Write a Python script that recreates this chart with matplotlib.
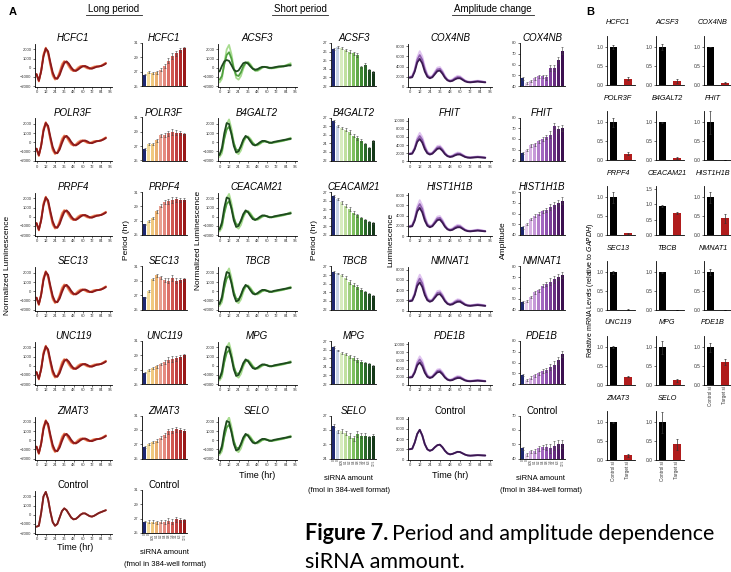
import numpy as np
import matplotlib
matplotlib.use("Agg")
import matplotlib.pyplot as plt
from matplotlib.lines import Line2D

plt.rcParams['font.family'] = ['Liberation Sans', 'DejaVu Sans']

W, H = 731, 572

# ---------------- data ----------------
hours = list(range(0, 91, 3))

# panel A, long period column (normalized luminescence)
long_light = [-700, -1500, -300, 1500, 2200, 1500, 200, -900, -1300, -1100, -400, 400, 750, 550, 100, -250,
              -350, -200, 50, 200, 200, 50, -80, -80, 50, 150, 150, 150, 250, 400, 550]
long_mid = [-700, -1450, -350, 1350, 2150, 1650, 400, -700, -1200, -1150, -600, 150, 650, 650, 300, -100,
            -350, -300, -100, 100, 200, 150, 0, -100, -50, 50, 150, 150, 200, 350, 500]
long_dark = [-700, -1400, -400, 1200, 2100, 1800, 600, -500, -1100, -1200, -800, -100, 500, 700, 450, 50,
             -250, -350, -200, 0, 150, 200, 100, -50, -100, 0, 100, 150, 200, 300, 450]
long_ctrl = [-1300, -1200, 200, 2000, 2500, 1700, 300, -800, -1200, -1000, -300, 400, 700, 500, 100, -300,
             -500, -450, -250, 0, 150, 150, 0, -150, -200, -100, 50, 200, 300, 400, 500]

# short period column
short_light = [-1600, -1200, 500, 2000, 2500, 1500, 0, -1100, -1300, -900, -100, 500, 650, 400, 0, -300,
               -350, -200, 0, 100, 100, 0, -50, -50, 0, 50, 100, 150, 250, 400, 500]
short_mid = [-1300, -900, 400, 1400, 1700, 1000, -100, -800, -900, -500, 150, 550, 550, 250, -100, -300,
             -250, -100, 50, 100, 50, -50, -50, 0, 50, 100, 150, 200, 250, 300, 350]
short_flat = [-400, 200, 700, 850, 750, 300, -200, -400, -300, 100, 500, 600, 450, 150, -100, -200,
              -150, 0, 100, 100, 50, 0, 0, 50, 100, 150, 150, 150, 200, 250, 250]
short_dark = [-1400, -600, 1000, 2100, 2000, 900, -400, -1100, -1000, -400, 300, 700, 500, 100, -250, -350,
              -200, 0, 150, 150, 50, -50, -50, 50, 100, 150, 200, 250, 300, 350, 400]

# amplitude column (raw luminescence)
amp_light = [2000, 2200, 3500, 5800, 7000, 6000, 4000, 2500, 2000, 2200, 3000, 3800, 3900, 3200, 2200, 1500,
             1300, 1500, 1900, 2200, 2100, 1700, 1300, 1100, 1050, 1100, 1200, 1250, 1200, 1100, 1000]
amp_mid = [1900, 2050, 3250, 5300, 6250, 5300, 3500, 2250, 1850, 2050, 2750, 3450, 3550, 2900, 2000, 1400,
           1200, 1350, 1700, 1950, 1900, 1550, 1200, 1020, 970, 1020, 1100, 1150, 1100, 1020, 950]
amp_dark = [1800, 1900, 3000, 4800, 5500, 4600, 3000, 2000, 1700, 1900, 2500, 3100, 3200, 2600, 1800, 1300,
            1100, 1200, 1500, 1700, 1700, 1400, 1100, 950, 900, 950, 1000, 1050, 1000, 950, 900]
amp_ctrl = [2000, 2100, 3300, 5000, 5800, 4700, 3000, 2000, 1700, 1900, 2400, 2800, 2900, 2400, 1700, 1200,
            1000, 1100, 1300, 1500, 1450, 1200, 950, 800, 750, 780, 820, 850, 830, 800, 780]

long_genes = ['HCFC1', 'POLR3F', 'PRPF4', 'SEC13', 'UNC119', 'ZMAT3', 'Control']
long_period = [
    [26.6, 26.9, 26.8, 26.9, 27.3, 27.8, 28.5, 29.2, 29.6, 30.0, 30.3],
    [26.6, 27.3, 27.3, 27.8, 28.5, 28.6, 28.8, 29.0, 28.9, 28.8, 28.7],
    [26.5, 26.9, 27.4, 28.3, 29.1, 29.6, 29.7, 29.9, 30.0, 29.9, 29.9],
    [26.7, 27.6, 29.3, 29.8, 29.5, 29.1, 29.0, 29.4, 29.0, 29.1, 29.2],
    [26.6, 27.0, 27.2, 27.5, 27.8, 28.1, 28.4, 28.5, 28.6, 28.8, 29.0],
    [26.6, 27.0, 27.3, 27.5, 27.9, 28.3, 28.8, 28.9, 29.1, 29.0, 28.9],
    [26.6, 26.6, 26.6, 26.5, 26.6, 26.5, 26.7, 26.6, 26.9, 26.8, 26.8],
]
long_err = [0.1, 0.15, 0.15, 0.2, 0.2, 0.3, 0.35, 0.4, 0.35, 0.3, 0.2]

short_genes = ['ACSF3', 'B4GALT2', 'CEACAM21', 'TBCB', 'MPG', 'SELO']
short_period = [
    [26.3, 26.5, 26.4, 26.2, 26.0, 25.8, 25.6, 24.2, 24.5, 23.9, 23.6],
    [26.6, 26.0, 25.8, 25.6, 25.3, 24.9, 24.6, 24.3, 23.9, 23.5, 24.3],
    [26.5, 26.2, 25.8, 25.4, 25.0, 24.6, 24.3, 24.0, 23.7, 23.5, 23.4],
    [26.4, 26.2, 26.0, 25.7, 25.2, 24.9, 24.6, 24.3, 24.0, 23.8, 23.6],
    [26.3, 25.9, 25.6, 25.5, 25.2, 25.0, 24.8, 24.6, 24.4, 24.3, 24.1],
    [26.3, 25.9, 25.9, 25.8, 25.6, 25.4, 25.7, 25.6, 25.6, 25.5, 25.6],
]
short_err = [0.1, 0.1, 0.15, 0.15, 0.2, 0.2, 0.2, 0.15, 0.15, 0.1, 0.1]

amp_genes = ['COX4NB', 'FHIT', 'HIST1H1B', 'NMNAT1', 'PDE1B', 'Control']
amplitude = [
    [47, 43, 45, 47, 49, 49, 48, 57, 57, 64, 73],
    [47, 50, 54, 55, 58, 60, 62, 64, 72, 69, 70],
    [47, 50, 55, 58, 60, 62, 63, 66, 68, 70, 72],
    [47, 48, 52, 56, 58, 62, 64, 66, 68, 70, 72],
    [48, 44, 46, 48, 50, 52, 53, 56, 58, 62, 68],
    [47, 43, 45, 45, 47, 48, 48, 47, 49, 50, 50],
]
amp_err = [1, 1, 1, 1.5, 1.5, 1.5, 2, 3, 3, 3, 3]
amp_lum_top = [8000, 10000, 8000, 8000, 10000, 8000]

sirna_labels = ['0', '0', '0.05', '0.1', '0.2', '0.4', '0.8', '1.6', '3.1', '6.3', '12.5']

# panel B: knockdown efficiency
b_genes = ['HCFC1', 'ACSF3', 'COX4NB', 'POLR3F', 'B4GALT2', 'FHIT', 'PRPF4', 'CEACAM21', 'HIST1H1B',
           'SEC13', 'TBCB', 'NMNAT1', 'UNC119', 'MPG', 'PDE1B', 'ZMAT3', 'SELO']
b_control = [1.0, 1.0, 1.0, 1.0, 1.0, 1.0, 1.0, 0.95, 1.0, 1.0, 1.0, 1.0, 1.0, 1.0, 1.0, 1.0, 1.0]
b_control_err = [0.05, 0.08, 0.0, 0.12, 0.02, 0.3, 0.15, 0.03, 0.15, 0.04, 0.02, 0.08, 0.03, 0.18, 0.12, 0.02, 0.28]
b_target = [0.17, 0.10, 0.06, 0.17, 0.05, 0.01, 0.04, 0.72, 0.45, 0.01, 0.0, 0.0, 0.22, 0.12, 0.60, 0.12, 0.42]
b_target_err = [0.03, 0.05, 0.02, 0.05, 0.02, 0.0, 0.02, 0.02, 0.12, 0.01, 0.0, 0.0, 0.02, 0.05, 0.08, 0.04, 0.15]

# ---------------- styles ----------------
navy = '#1e2770'
long_cols = ['#f5dc9a', '#f0c980', '#eab070', '#e8a090', '#e48a80', '#dc7068', '#d05850', '#c04040', '#b02828', '#981818']
short_cols = ['#c8d4e6', '#d8ecc0', '#c0e0a0', '#a0d080', '#80c060', '#60a848', '#3c8a30', '#2a6a28', '#1e5020', '#143818']
amp_cols = ['#e6cdec', '#d6b0e2', '#c698d8', '#b47ecc', '#a266c0', '#9052b0', '#7c3e98', '#682c80', '#521c68', '#3c1050']

fig = plt.figure(figsize=(W / 100, H / 100), dpi=100)


def px_axes(x, y, w, h):
    return fig.add_axes([x / W, 1 - (y + h) / H, w / W, h / H])


def ftext(x, y, s, **kw):
    kw.setdefault('ha', 'center')
    kw.setdefault('va', 'center')
    return fig.text(x / W, 1 - y / H, s, **kw)


def style(ax, ls=3.0):
    for sp in ['top', 'right']:
        ax.spines[sp].set_visible(False)
    for sp in ['left', 'bottom']:
        ax.spines[sp].set_linewidth(0.6)
    ax.tick_params(length=1.5, width=0.5, labelsize=ls, pad=1, colors='#333333')


def line_panel(ax, curves, colors, ylim, yticks):
    for c, col in zip(curves, colors):
        ax.plot(hours, c, color=col, lw=1.3, solid_capstyle='round')
    ax.set_xlim(-2, 98)
    ax.set_ylim(*ylim)
    ax.set_xticks(range(0, 97, 12))
    ax.set_yticks(yticks)
    style(ax)


def bar_panel(ax, vals, err, cols, ylim, yticks, bottom_labels=False):
    x = np.arange(len(vals))
    ax.bar(x, np.array(vals) - ylim[0], bottom=ylim[0], width=0.75, color=[navy] + cols,
           yerr=err, error_kw=dict(elinewidth=0.4, capsize=0.8, capthick=0.4, ecolor='#444444'))
    ax.set_xlim(-0.7, len(vals) - 0.3)
    ax.set_ylim(*ylim)
    ax.set_yticks(yticks)
    style(ax)
    if bottom_labels:
        ax.set_xticks(x)
        ax.set_xticklabels(sirna_labels, rotation=90, fontsize=2.3)
        ax.tick_params(axis='x', length=0, pad=0.5)
    else:
        ax.set_xticks([])


row_step = 74.5
lk = [-2000, -1000, 0, 1000, 2000]

# long period column
for r, g in enumerate(long_genes):
    base = row_step * r
    ax = px_axes(35, 44 + base, 77, 43)
    if g == 'Control':
        line_panel(ax, [long_ctrl, long_ctrl], ['#d04030', '#7a2020'], (-2100, 2600), lk)
    else:
        line_panel(ax, [long_light, long_mid, long_dark], ['#f0a070', '#d04030', '#8a1a1a'], (-2100, 2600), lk)
    ftext(73, 38 + base, g, fontsize=7, style='normal' if g == 'Control' else 'italic')
    bx = px_axes(142, 43 + base, 45, 43)
    bar_panel(bx, long_period[r], long_err, long_cols, (25, 31), [25, 27, 29, 31], g == 'Control')
    ftext(164, 38 + base, g, fontsize=7, style='normal' if g == 'Control' else 'italic')

# short period column
for r, g in enumerate(short_genes):
    base = row_step * r
    ax = px_axes(218, 44 + base, 79, 43)
    if g == 'ACSF3':
        line_panel(ax, [short_light, short_mid, short_flat], ['#a8dc90', '#50a040', '#1e4a1e'], (-2100, 2600), lk)
    else:
        line_panel(ax, [short_light, short_mid, short_dark], ['#a8dc90', '#50a040', '#1e4a1e'], (-2100, 2600), lk)
    ftext(257, 38 + base, g, fontsize=7, style='italic')
    bx = px_axes(331, 43 + base, 45, 43)
    if g == 'SELO':
        bar_panel(bx, short_period[r], short_err, short_cols, (24, 27), [24, 25, 26, 27], True)
    else:
        bar_panel(bx, short_period[r], short_err, short_cols, (22, 27), [22, 23, 24, 25, 26, 27])
    ftext(354, 38 + base, g, fontsize=7, style='italic')

# amplitude column
for r, g in enumerate(amp_genes):
    base = row_step * r
    top = amp_lum_top[r]
    ax = px_axes(408, 44 + base, 84, 43)
    if g == 'Control':
        line_panel(ax, [amp_ctrl, amp_ctrl], ['#9060b0', '#3a1850'], (0, top * 1.05), range(0, top + 1, 2000))
    else:
        line_panel(ax, [amp_light, amp_mid, amp_dark], ['#e0c4f0', '#9060b0', '#3a1850'], (0, top * 1.05),
                   range(0, top + 1, 2000))
    ftext(450, 38 + base, g, fontsize=7, style='normal' if g == 'Control' else 'italic')
    bx = px_axes(520, 43 + base, 45, 43)
    if g == 'Control':
        bar_panel(bx, amplitude[r], amp_err, amp_cols, (40, 70), [40, 50, 60, 70], True)
    else:
        bar_panel(bx, amplitude[r], amp_err, amp_cols, (40, 80), [40, 50, 60, 70, 80])
    ftext(542, 38 + base, g, fontsize=7, style='normal' if g == 'Control' else 'italic')

# column headers
for cx, label, half in [(114, 'Long period', 28), (300, 'Short period', 28), (493, 'Amplitude change', 41)]:
    ftext(cx, 9, label, fontsize=7)
    fig.add_artist(Line2D([(cx - half) / W, (cx + half) / W], [1 - 15 / H, 1 - 15 / H],
                          color='#222222', lw=0.6))

ftext(13, 12, 'A', fontsize=8, weight='bold')
ftext(590, 12, 'B', fontsize=8, weight='bold')

# axis labels
ftext(8, 265, 'Normalized Luminescence', fontsize=6, rotation=90)
ftext(127, 240, 'Period (hr)', fontsize=6, rotation=90)
ftext(198, 240, 'Normalized Luminescence', fontsize=6, rotation=90)
ftext(314, 240, 'Period (hr)', fontsize=6, rotation=90)
ftext(391, 240, 'Luminescence', fontsize=6, rotation=90)
ftext(503, 240, 'Amplitude', fontsize=6, rotation=90)
ftext(75, 548, 'Time (hr)', fontsize=6.5)
ftext(257, 475, 'Time (hr)', fontsize=6.5)
ftext(450, 475, 'Time (hr)', fontsize=6.5)
ftext(165, 553, 'siRNA amount', fontsize=5.5)
ftext(165, 564, '(fmol in 384-well format)', fontsize=5.5)
ftext(349, 479, 'siRNA amount', fontsize=5.5)
ftext(349, 490, '(fmol in 384-well format)', fontsize=5.5)
ftext(541, 479, 'siRNA amount', fontsize=5.5)
ftext(541, 490, '(fmol in 384-well format)', fontsize=5.5)

# panel B
b_cols_x = [607, 656, 704]
for i, g in enumerate(b_genes):
    r, c = divmod(i, 3)
    ylim_top = 1.6 if g == 'CEACAM21' else 1.3
    ax = px_axes(b_cols_x[c], 36 + 75 * r, 28, 49)
    ax.bar([0, 1], [b_control[i], b_target[i]], width=0.55, color=['black', '#b01c1c'],
           yerr=[b_control_err[i], b_target_err[i]],
           error_kw=dict(elinewidth=0.5, capsize=1.0, capthick=0.5, ecolor='#333333'))
    ax.set_xlim(-0.45, 1.5)
    ax.set_ylim(0, ylim_top)
    ax.set_yticks([0, 0.5, 1.0, 1.5] if g == 'CEACAM21' else [0, 0.5, 1.0])
    ax.yaxis.set_major_formatter(matplotlib.ticker.FormatStrFormatter('%.1f'))
    style(ax, ls=3.5)
    if g in ('PDE1B', 'ZMAT3', 'SELO'):
        ax.set_xticks([0, 1])
        ax.set_xticklabels(['Control si', 'Target si'], rotation=90, fontsize=3.3)
        ax.tick_params(axis='x', length=0, pad=1)
    else:
        ax.set_xticks([])
    tx = b_cols_x[c] + (9 if c == 2 else 11)
    ftext(tx, 23 + 75 * r, g, fontsize=5.2, style='italic')

fig.text(591 / W, 1 - 290 / H, 'Relative mRNA Levels (relative to $\\it{GAPDH}$)', fontsize=5,
         rotation=90, ha='center', va='center')

# caption
fig.text(305 / W, 1 - 540 / H, 'Figure 7.', fontsize=15.5, weight='bold', family=['Lato', 'DejaVu Sans'],
         ha='left', va='baseline')
fig.text(392 / W, 1 - 540 / H, 'Period and amplitude dependence', fontsize=15.5,
         family=['Lato', 'DejaVu Sans'], ha='left', va='baseline')
fig.text(305 / W, 1 - 568 / H, 'siRNA ammount.', fontsize=15.5, family=['Lato', 'DejaVu Sans'],
         ha='left', va='baseline')

fig.savefig('out.png', dpi=100)
